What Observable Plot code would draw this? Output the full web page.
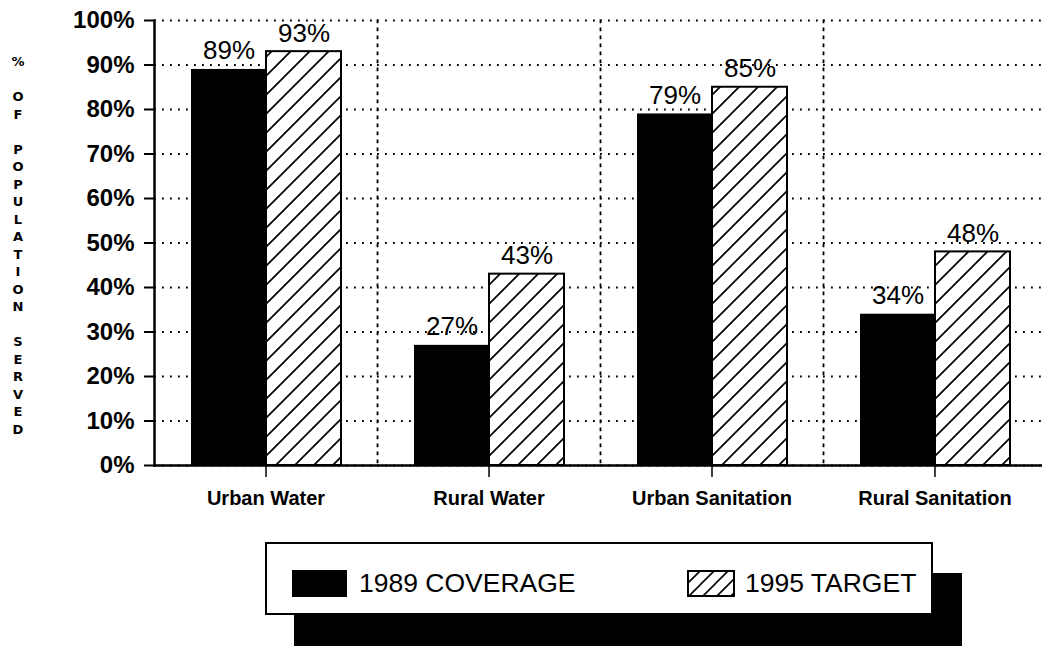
<!DOCTYPE html>
<html><head><meta charset="utf-8">
<script src="https://cdn.jsdelivr.net/npm/d3@7"></script>
<script src="https://cdn.jsdelivr.net/npm/@observablehq/plot@0.6"></script>
<style>
html,body{margin:0;padding:0;background:#fff;}
#wrap{position:relative;width:1042px;height:648px;font-family:"Liberation Sans",Arial,sans-serif;color:#000;overflow:hidden;background:#fff;}
#ytitle{position:absolute;left:4px;top:53px;width:28px;text-align:center;font-family:"DejaVu Sans",sans-serif;font-weight:bold;font-size:13px;line-height:17.5px;white-space:pre;}
#legend{position:absolute;left:265px;top:542px;width:664px;height:69px;border:2px solid #000;background:#fff;box-shadow:29px 31px 0 0 #000;}
.sw{position:absolute;top:26px;height:27px;}
.lt{position:absolute;top:25px;height:29px;line-height:29px;font-size:26.5px;white-space:nowrap;}
</style>
</head><body>
<div id="wrap">
  <div id="chart"></div>
  <div id="ytitle"></div>
  <div id="legend"></div>
</div>
<script>
const categories = ["Urban Water", "Rural Water", "Urban Sanitation", "Rural Sanitation"];
const seriesNames = ["1989 COVERAGE", "1995 TARGET"];
const coverage1989 = [89, 27, 79, 34];
const target1995 = [93, 43, 85, 48];
const yTicks = [0, 10, 20, 30, 40, 50, 60, 70, 80, 90, 100];
const yTitle = "% OF POPULATION SERVED";

const rows = categories.flatMap((c, i) => [
  {category: c, series: seriesNames[0], value: coverage1989[i]},
  {category: c, series: seriesNames[1], value: target1995[i]}
]);

const dotted = {stroke: "#000", strokeOpacity: 1, strokeWidth: 1.8, strokeDasharray: "1.8,6.2"};

const chart = Plot.plot({
  width: 1042, height: 525,
  marginLeft: 154, marginRight: -4, marginTop: 20, marginBottom: 60,
  style: {fontFamily: '"Liberation Sans", Arial, sans-serif', background: "transparent", color: "#000", overflow: "visible"},
  fx: {domain: categories, padding: 0},
  x: {domain: seriesNames, paddingInner: 0, paddingOuter: 0.47, axis: null},
  y: {domain: [0, 100]},
  marks: [
    Plot.gridY(yTicks, dotted),
    Plot.frame({anchor: "right", ...dotted}),
    Plot.barY(rows.filter(d => d.series === seriesNames[0]), {fx: "category", x: "series", y: "value", fill: "#000"}),
    Plot.barY(rows.filter(d => d.series === seriesNames[1]), {fx: "category", x: "series", y: "value", fill: "url(#hatch)", stroke: "#000", strokeWidth: 2}),
    Plot.text(rows, {fx: "category", x: "series", y: "value", text: d => d.value + "%", lineAnchor: "bottom", dy: -10, fontSize: 26, fill: "#000"}),
    Plot.ruleY([0], {stroke: "#000", strokeWidth: 2.5}),
    Plot.frame({anchor: "left", facetAnchor: "left", stroke: "#000", strokeWidth: 2.5}),
    Plot.axisY(yTicks, {tickFormat: d => d + "%", tickSize: 10, tickPadding: 10, fontSize: 24, fontWeight: "bold", label: null, strokeWidth: 2}),
    Plot.axisFx({anchor: "bottom", tickSize: 12, tickPadding: 13, fontSize: 20, fontWeight: "bold", label: null, strokeWidth: 1.5})
  ]
});
document.getElementById("chart").appendChild(chart);

const svg = d3.select(chart.tagName.toLowerCase() === "svg" ? chart : chart.querySelector("svg"));
svg.insert("defs", ":first-child").html(
  '<pattern id="hatch" patternUnits="userSpaceOnUse" width="19" height="19">' +
  '<rect width="19" height="19" fill="#fff"/>' +
  '<path d="M0,19 L19,0 M-1,1 L1,-1 M18,20 L20,18" stroke="#000" stroke-width="1.7"/></pattern>'
);

// stacked vertical axis title
document.getElementById("ytitle").textContent = yTitle.split("").join("\n");

// legend
const legend = d3.select("#legend");
legend.append("div").attr("class", "sw").style("left", "25px").style("width", "55px").style("background", "#000");
legend.append("div").attr("class", "lt").style("left", "92px").text(seriesNames[0]);
const hs = legend.append("svg").attr("class", "sw").style("left", "420px").attr("width", 48).attr("height", 27);
hs.append("defs").html('<pattern id="hatchL" patternUnits="userSpaceOnUse" width="14" height="14"><rect width="14" height="14" fill="#fff"/><path d="M0,14 L14,0 M-1,1 L1,-1 M13,15 L15,13" stroke="#000" stroke-width="1.6"/></pattern>');
hs.append("rect").attr("x", 1).attr("y", 1).attr("width", 46).attr("height", 25).attr("fill", "url(#hatchL)").attr("stroke", "#000").attr("stroke-width", 2);
legend.append("div").attr("class", "lt").style("left", "478px").text(seriesNames[1]);
</script>
</body></html>
